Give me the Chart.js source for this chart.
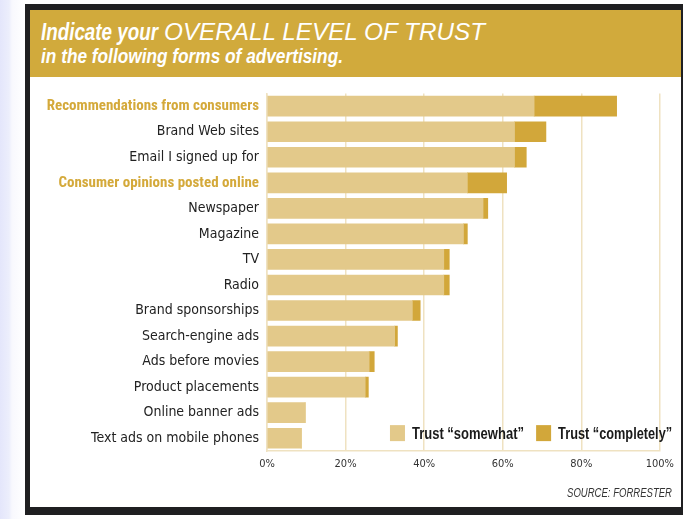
<!DOCTYPE html>
<html>
<head>
<meta charset="utf-8">
<script src="https://cdn.jsdelivr.net/npm/chart.js@4.4.1/dist/chart.umd.min.js"></script>
<style>
  html, body { margin:0; padding:0; }
  body { width:683px; height:519px; position:relative; overflow:hidden;
         background: linear-gradient(to right, #e4e6fb 0px, #eceefc 9px, #f8f8fd 12px, #ffffff 25px); }
  #frame { position:absolute; left:25px; top:4px; width:658px; height:511px; background:#1f1f21; }
  #header { position:absolute; left:30px; top:10px; width:651px; height:67px; background:#d1aa3c; overflow:hidden; }
  #panel { position:absolute; left:30px; top:77px; width:651px; height:430px; background:#ffffff; }
  .fit { position:absolute; display:inline-block; white-space:nowrap; color:#fff; transform-origin:0 50%; }
  .cond { font-family:'Liberation Sans',Arial,sans-serif; font-weight:bold; font-style:italic; }
  .wide { font-family:'Liberation Sans',Arial,sans-serif; font-style:italic; font-weight:normal; }
  #source { position:absolute; right:9px; top:409px; font-family:'Liberation Sans',Arial,sans-serif; white-space:nowrap;
            font-style:italic; font-size:12px; color:#333; transform-origin:100% 50%; }
  canvas { position:absolute; left:0; top:0; }
</style>
</head>
<body>
<div id="frame"></div>
<div id="header">
  <span id="t1a" class="fit cond" style="left:11px; top:11px; font-size:23px; line-height:23px;" data-w="117">Indicate your</span>
  <span id="t1b" class="fit wide" style="left:134px; top:11px; font-size:23px; line-height:23px;" data-w="321">OVERALL LEVEL OF TRUST</span>
  <span id="t2" class="fit cond" style="left:11px; top:35px; font-size:21px; line-height:21px;" data-w="302">in the following forms of advertising.</span>
</div>
<div id="panel">
  <canvas id="c" width="651" height="430"></canvas>
  <div id="source" data-w="105">SOURCE: FORRESTER</div>
</div>
<script>
const categories = [
  "Recommendations from consumers",
  "Brand Web sites",
  "Email I signed up for",
  "Consumer opinions posted online",
  "Newspaper",
  "Magazine",
  "TV",
  "Radio",
  "Brand sponsorships",
  "Search-engine ads",
  "Ads before movies",
  "Product placements",
  "Online banner ads",
  "Text ads on mobile phones"
];
const trustSomewhat   = [68, 63, 63, 51, 55, 50, 45, 45, 37, 32.5, 26, 25, 9.7, 8.7];
const trustCompletely = [21, 8, 3, 10, 1.2, 1, 1.4, 1.4, 2, 0.7, 1.3, 0.8, 0, 0];
const xTicks = [0, 20, 40, 60, 80, 100];
const highlighted = ["Recommendations from consumers", "Consumer opinions posted online"];
const seriesNames = ["Trust \u201csomewhat\u201d", "Trust \u201ccompletely\u201d"];

// squeeze header / source text horizontally to mimic the condensed face
document.querySelectorAll('[data-w]').forEach(el => {
  const w = el.getBoundingClientRect().width;
  el.style.transform = 'scaleX(' + (parseFloat(el.dataset.w) / w) + ')';
});

const NARROW = "'DejaVu Sans Condensed','Liberation Sans',sans-serif";
const LIGHT = '#e3c98a';
const DARK = '#d2a73a';
const GOLD_TEXT = '#d4a93a';
const GRID = '#efe2c1';

// pick the bold face that can be largest while the longest label spans ~219px
const mctx = document.createElement('canvas').getContext('2d');
let boldFamily = NARROW, boldSize = 0;
["'Roboto Condensed'", "Roboto", "Lato", NARROW].forEach(f => {
  mctx.font = "bold 14px " + f;
  const s = Math.min(15, 14 * 219 / mctx.measureText(highlighted[0]).width);
  if (s > boldSize) { boldSize = s; boldFamily = f; }
});

const legendPlugin = {
  id: 'insideLegend',
  afterDatasetsDraw(chart) {
    const ctx = chart.ctx;
    const xs = chart.scales.x, ys = chart.scales.y;
    const y = ys.getPixelForValue(12.8);
    const items = [
      { x: xs.getPixelForValue(31.3), w: 112, color: chart.data.datasets[0].backgroundColor, text: chart.data.datasets[0].label },
      { x: xs.getPixelForValue(68.5), w: 114, color: chart.data.datasets[1].backgroundColor, text: chart.data.datasets[1].label }
    ];
    ctx.save();
    ctx.font = "bold 16px 'Liberation Sans', Arial, sans-serif";
    ctx.textBaseline = 'middle';
    ctx.textAlign = 'left';
    items.forEach(it => {
      ctx.fillStyle = it.color;
      ctx.fillRect(it.x, y - 8, 15, 16);
      ctx.fillStyle = '#1a1a1a';
      const tw = ctx.measureText(it.text).width;
      ctx.save();
      ctx.translate(it.x + 22, y + 1);
      ctx.scale(it.w / tw, 1);
      ctx.fillText(it.text, 0, 0);
      ctx.restore();
    });
    ctx.restore();
  }
};

new Chart(document.getElementById('c'), {
  type: 'bar',
  data: {
    labels: categories,
    datasets: [
      { label: seriesNames[0], data: trustSomewhat, backgroundColor: LIGHT, barThickness: 20, borderWidth: 0 },
      { label: seriesNames[1], data: trustCompletely, backgroundColor: DARK, barThickness: 20, borderWidth: 0 }
    ]
  },
  options: {
    indexAxis: 'y',
    responsive: false,
    animation: false,
    layout: { padding: { left: 0, right: 21, top: 14, bottom: 32 } },
    plugins: { legend: { display: false }, tooltip: { enabled: false } },
    scales: {
      x: {
        stacked: true, min: 0, max: 100,
        afterBuildTicks: (s) => { s.ticks = xTicks.map(v => ({ value: v })); },
        afterFit: (s) => { s.height = 24; },
        grid: { color: GRID, lineWidth: 1.5, drawTicks: false },
        border: { display: true, color: GRID, width: 1.5 },
        ticks: { padding: 7, color: '#333', font: { family: NARROW, size: 11 }, callback: v => v + '%' }
      },
      y: {
        stacked: true,
        afterFit: (s) => { s.width = 237; },
        grid: { display: false, drawTicks: false },
        border: { display: true, color: GRID, width: 1.5 },
        ticks: {
          padding: 8,
          color: (c) => highlighted.includes(categories[c.index]) ? GOLD_TEXT : '#222',
          font: (c) => highlighted.includes(categories[c.index])
            ? { family: boldFamily, size: boldSize, weight: 'bold' }
            : { family: NARROW, size: 14, weight: 'normal' }
        }
      }
    }
  },
  plugins: [legendPlugin]
});
</script>
</body>
</html>
